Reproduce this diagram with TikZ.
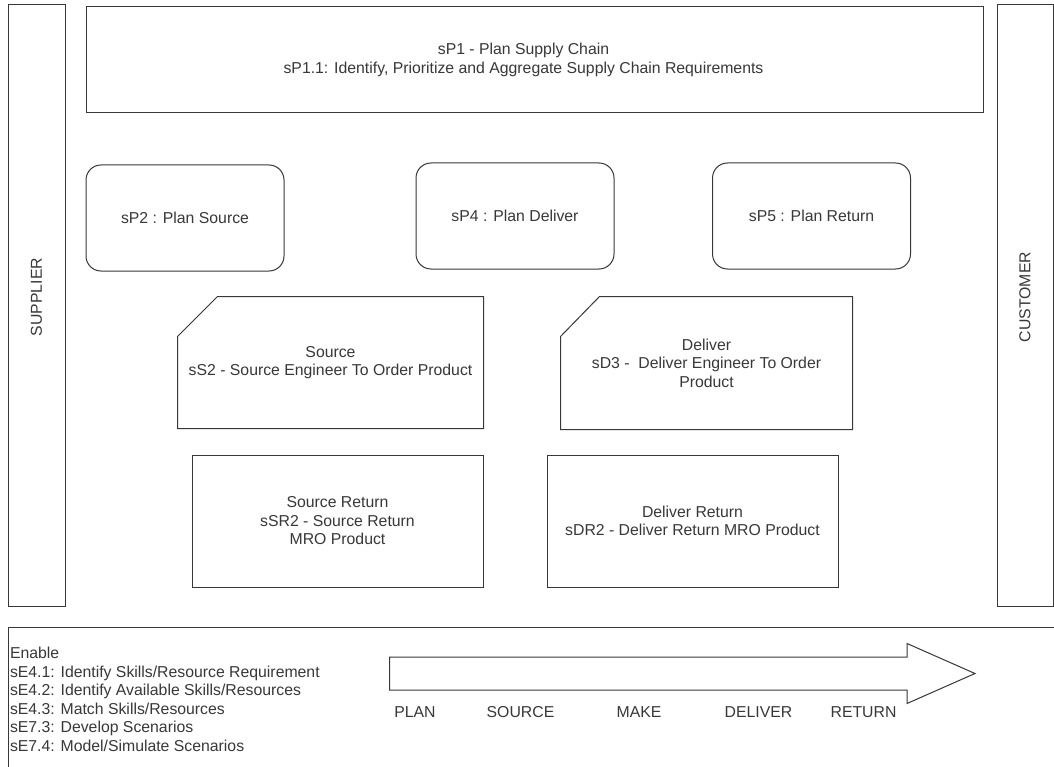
\documentclass[tikz,border=0pt]{standalone}
\usepackage{fontspec}
\setmainfont{Liberation Sans}
\usepackage{tikz}
\usetikzlibrary{calc}
\definecolor{inkgray}{HTML}{383838}

\begin{document}
\begin{tikzpicture}[x=1pt,y=-1pt, line width=1pt, draw=inkgray, text=inkgray,
	font=\fontsize{15.8}{18.5}\selectfont,
	box/.style 2 args={draw, rectangle, inner sep=0pt, align=center, minimum width=#1, minimum height=#2},
	planbox/.style={box={198pt}{106pt}, rounded corners=15pt},
	cutbox/.style 2 args={rectangle, inner sep=0pt, align=center, minimum width=#1, minimum height=#2}]
	\useasboundingbox (0,0) rectangle (1054,767);
	\fill[white] (0,0) rectangle (1054,767);
	\clip (0,0) rectangle (1054,767);
	%% side boxes, labels sit a bit above the middle
	\node[box={57pt}{601pt}] (supplier) at (36.5,305.5) {};
	\node[box={56pt}{601pt}] (customer) at (1025,305.5) {};
	\node[rotate=90, inner sep=0pt] (suppliertxt) at (36.5,297) {SUPPLIER};
	\node[rotate=90, inner sep=0pt] (customertxt) at (1025,297) {CUSTOMER};
	%% top planning box
	\node[box={897pt}{106pt}] (sp1) at (534.5,60) {};
	\node[align=center, inner sep=0pt] (sp1txt) at ([xshift=-11pt]sp1.center) {sP1 - Plan Supply Chain\\sP1.1: Identify, Prioritize and Aggregate Supply Chain Requirements};
	%% plan boxes
	\node[planbox] (sp2) at (185,218) {sP2 : Plan Source};
	\node[planbox] (sp4) at (515,216) {sP4 : Plan Deliver};
	\node[planbox] (sp5) at (811.5,216) {sP5 : Plan Return};
	%% source and deliver, corner cut by hand
	\node[cutbox={305pt}{131pt}] (src) at (330.5,362.5) {Source\\sS2 - Source Engineer To Order Product};
	\node[cutbox={291pt}{132pt}] (dlv) at (706.5,363) {Deliver\\sD3 -\ \ Deliver Engineer To Order\\Product};
	\draw ($(src.north west)+(40,0)$) -- (src.north east) -- (src.south east) -- (src.south west) -- ($(src.north west)+(0,40)$) -- cycle;
	\draw ($(dlv.north west)+(39,0)$) -- (dlv.north east) -- (dlv.south east) -- (dlv.south west) -- ($(dlv.north west)+(0,40)$) -- cycle;
	%% return boxes
	\node[box={291pt}{132pt}] (srr) at (337.5,521) {Source Return\\sSR2 - Source Return\\MRO Product};
	\node[box={291pt}{132pt}] (dlr) at (692.5,521) {Deliver Return\\sDR2 - Deliver Return MRO Product};
	%% enable frame, runs off the page
	\node[box={1100pt}{200pt}, anchor=north west] (enable) at (8,627) {};
	\node[align=left, inner sep=0pt, anchor=north west] (enabletxt) at (9.5,647) {Enable\\sE4.1: Identify Skills/Resource Requirement\\sE4.2: Identify Available Skills/Resources\\sE4.3: Match Skills/Resources\\sE7.3: Develop Scenarios\\sE7.4: Model/Simulate Scenarios};
	%% process arrow
	\draw (389.6,657) -- (907,657) -- (907,643.5) -- (975,673.5) -- (907,703.5) -- (907,690) -- (389.6,690) -- cycle;
	\foreach \phase/\xpos in {PLAN/415,SOURCE/520.5,MAKE/639,DELIVER/758.5,RETURN/863.5}{
		\node[inner sep=0pt] (\phase) at (\xpos,712) {\phase};
		}
\end{tikzpicture}
\end{document}
